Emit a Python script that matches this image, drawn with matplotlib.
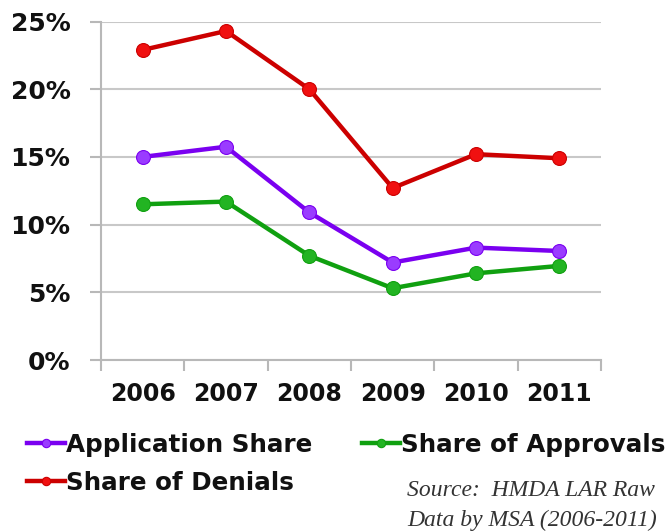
import matplotlib
matplotlib.use("Agg")
import matplotlib.pyplot as plt
from matplotlib.ticker import FuncFormatter, FixedLocator

years = ["2006", "2007", "2008", "2009", "2010", "2011"]
application_share = [15.0, 15.75, 10.9, 7.2, 8.3, 8.05]
share_of_approvals = [11.5, 11.7, 7.7, 5.3, 6.4, 6.95]
share_of_denials = [22.9, 24.3, 20.0, 12.7, 15.2, 14.9]
y_ticks = [0, 5, 10, 15, 20, 25]

series = [
    ("Application Share", application_share, "#7a00f0", "#9a3cff"),
    ("Share of Denials", share_of_denials, "#cc0000", "#f01010"),
    ("Share of Approvals", share_of_approvals, "#10a010", "#22b422"),
]

fig = plt.figure(figsize=(6.68, 5.31), dpi=100)
ax = fig.add_axes([101 / 668, 1 - 360 / 531, 500 / 668, (360 - 21.5) / 531])

x = list(range(len(years)))
handles = []
for name, vals, lc, mc in series:
    (h,) = ax.plot(x, vals, color=lc, lw=3.2, marker="o", ms=10,
                   markerfacecolor=mc, markeredgecolor=lc, markeredgewidth=0.8,
                   label=name, zorder=3, solid_joinstyle="round")
    handles.append(h)

ax.set_xlim(-0.5, len(years) - 0.5)
ax.set_ylim(0, 25)
ax.yaxis.set_major_locator(FixedLocator(y_ticks))
ax.yaxis.set_major_formatter(FuncFormatter(lambda v, p: f"{v:.0f}%"))
ax.set_xticks([i - 0.5 for i in range(len(years) + 1)])
ax.set_xticklabels([])
ax.set_xticks(x, minor=True)
ax.set_xticklabels(years, minor=True)
ax.tick_params(axis="x", which="minor", length=0, pad=16)
ax.tick_params(axis="x", which="major", length=8, width=1.5, color="#b8b8b8")
ax.tick_params(axis="y", length=8, width=1.5, color="#b8b8b8", pad=14)
for lab in ax.get_xticklabels(minor=True):
    lab.set_fontsize(17)
    lab.set_fontweight("bold")
    lab.set_color("#111111")
for lab in ax.get_yticklabels():
    lab.set_fontsize(18)
    lab.set_fontweight("bold")
    lab.set_color("#111111")

ax.grid(axis="y", color="#c8c8c8", lw=1.5)
ax.set_axisbelow(True)
for s in ["top", "right"]:
    ax.spines[s].set_visible(False)
for s in ["left", "bottom"]:
    ax.spines[s].set_color("#b8b8b8")
    ax.spines[s].set_linewidth(1.5)

leg = fig.legend(handles=handles, loc="upper left", bbox_to_anchor=(27 / 668, 1 - 433 / 531),
                 ncol=2, frameon=False, handlelength=1.55, handletextpad=0.05,
                 columnspacing=2.0, labelspacing=0.55, borderaxespad=0, borderpad=0,
                 prop={"family": "DejaVu Sans", "weight": "bold", "size": 17.7},
                 markerscale=0.6)
for t in leg.get_texts():
    t.set_color("#111111")

fig.text(407 / 668, 1 - 490 / 531, "Source:  HMDA LAR Raw", family="Liberation Serif",
         style="italic", fontsize=17, color="#333333", va="center")
fig.text(407 / 668, 1 - 520 / 531, "Data by MSA (2006-2011)", family="Liberation Serif",
         style="italic", fontsize=17, color="#333333", va="center")

fig.savefig("out.png", dpi=100)
